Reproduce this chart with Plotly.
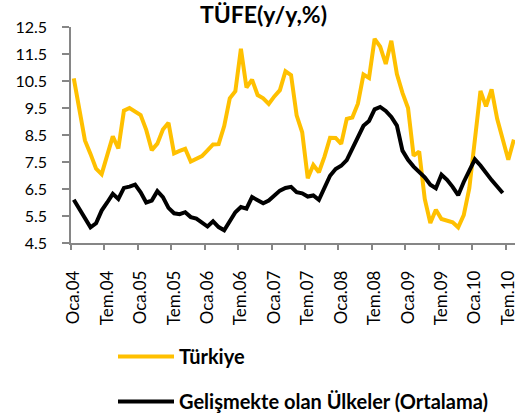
import plotly.graph_objects as go

# Monthly, Jan 2004 .. Aug 2010
turkiye = [
    10.6, 9.45, 8.3, 7.8, 7.25, 7.05, 7.75, 8.45, 8.0, 9.4, 9.5, 9.35,
    9.24, 8.69, 7.94, 8.18, 8.70, 8.95, 7.82, 7.91, 7.99, 7.52, 7.61, 7.72,
    7.93, 8.15, 8.16, 8.83, 9.86, 10.12, 11.69, 10.26, 10.55, 9.98, 9.86, 9.65,
    9.93, 10.16, 10.86, 10.72, 9.23, 8.60, 6.90, 7.39, 7.12, 7.70, 8.40, 8.39,
    8.17, 9.10, 9.15, 9.66, 10.74, 10.61, 12.06, 11.77, 11.13, 11.99, 10.76, 10.06,
    9.50, 7.73, 7.89, 6.13, 5.24, 5.73, 5.39, 5.33, 5.27, 5.08, 5.53, 6.53,
    8.19, 10.13, 9.56, 10.19, 9.10, 8.37, 7.58, 8.33,
]
# Monthly, Jan 2004 .. Jun 2010
gelismekte = [
    6.10, 5.76, 5.36, 5.08, 5.23, 5.70, 6.00, 6.32, 6.13, 6.54, 6.59, 6.66,
    6.38, 6.00, 6.07, 6.42, 6.20, 5.80, 5.60, 5.57, 5.64, 5.46, 5.40, 5.27,
    5.11, 5.30, 5.09, 4.97, 5.33, 5.64, 5.83, 5.77, 6.20, 6.10, 5.97, 6.07,
    6.26, 6.44, 6.54, 6.58, 6.38, 6.34, 6.22, 6.26, 6.10, 6.56, 6.99, 7.24,
    7.36, 7.57, 7.98, 8.35, 8.84, 9.02, 9.45, 9.54, 9.39, 9.17, 8.85, 7.92,
    7.58, 7.33, 7.15, 6.93, 6.66, 6.53, 7.03, 6.84, 6.58, 6.27, 6.76, 7.22,
    7.60, 7.37, 7.08, 6.83, 6.59, 6.35,
]
month_prefix = ["Oca", "Tem"]
years = ["04", "05", "06", "07", "08", "09", "10"]
tick_labels = [f"{m}.{y}" for y in years for m in month_prefix]
tick_positions = list(range(0, 6 * len(tick_labels), 6))

months_t = list(range(len(turkiye)))
months_g = list(range(len(gelismekte)))

FONT = "Lato"
fig = go.Figure()
fig.add_trace(go.Scatter(
    x=months_t, y=turkiye, mode="lines", name="<b>Türkiye</b>",
    line=dict(color="#FFC000", width=4), legendgroup="a", hoverinfo="skip",
))
fig.add_trace(go.Scatter(
    x=months_g, y=gelismekte, mode="lines",
    name="<b>Gelişmekte olan Ülkeler (Ortalama)</b>",
    line=dict(color="#000000", width=4), legendgroup="b", hoverinfo="skip",
))

fig.update_layout(
    width=515, height=418,
    margin=dict(l=71, r=0, t=27, b=175, autoexpand=False),
    paper_bgcolor="white", plot_bgcolor="white",
    font=dict(family=FONT, color="black"),
    title=dict(text="<b>TÜFE(y/y,%)</b>", x=263.5 / 515, xref="container", xanchor="center",
               y=1 - 15 / 418, yref="container", yanchor="middle",
               font=dict(size=23, family=FONT, color="black")),
    showlegend=True,
    legend=dict(x=(113 - 71) / 444, xref="paper", xanchor="left",
                y=-(337 - 243) / 216, yref="paper", yanchor="top",
                orientation="v", tracegroupgap=16, itemwidth=56,
                font=dict(size=20, family=FONT, color="black"),
                bgcolor="rgba(0,0,0,0)"),
    xaxis=dict(
        range=[-0.5, 79.2], showgrid=False, zeroline=False,
        showline=True, linecolor="#868686", linewidth=1.5,
        tickmode="array", tickvals=tick_positions, ticktext=tick_labels,
        ticks="", tickangle=-90, ticklabelstandoff=19, ticklabeloverflow="allow",
        tickfont=dict(size=17, family=FONT, color="black"),
        minor=dict(tickmode="linear", tick0=-0.5, dtick=6, ticks="outside",
                   ticklen=5, tickwidth=1.5, tickcolor="#868686", showgrid=False),
    ),
    yaxis=dict(
        range=[4.5, 12.5], dtick=1, tick0=4.5, tickformat=".1f",
        showgrid=False, zeroline=False,
        showline=True, linecolor="#868686", linewidth=1.5,
        ticks="outside", ticklen=7, tickwidth=1.5, tickcolor="#868686",
        ticklabelstandoff=12,
        tickfont=dict(size=16, family=FONT, color="black"),
    ),
)

fig.write_html("out.html", config={"displayModeBar": False},
               post_script="document.body.style.margin='0';")
